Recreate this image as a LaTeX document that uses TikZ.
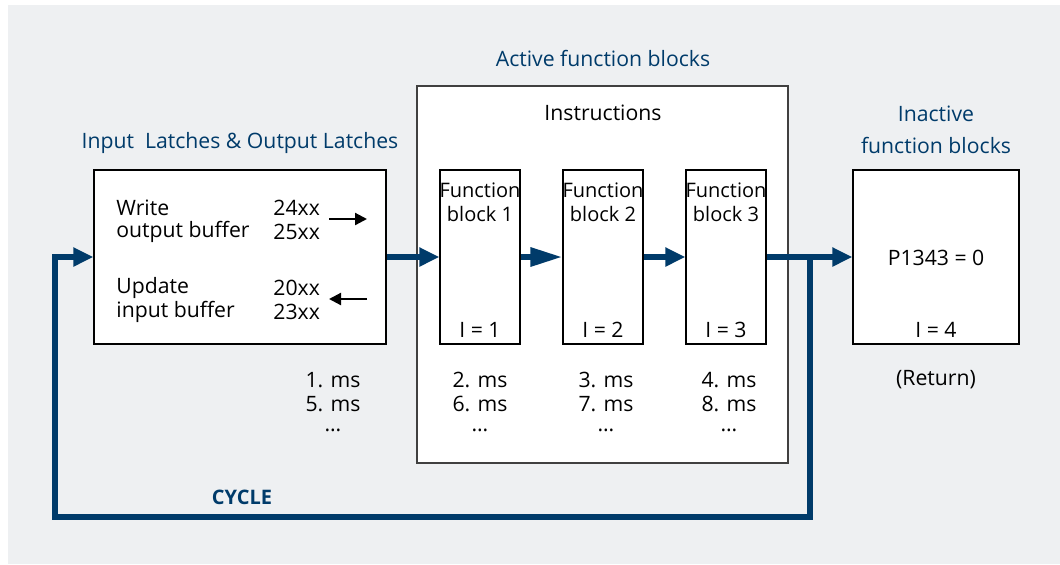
\documentclass[tikz,border=0pt]{standalone}
\usepackage{fontspec}
\setmainfont{Open Sans}
\usetikzlibrary{arrows.meta}
\definecolor{sblue}{HTML}{003B6A}
\definecolor{bggray}{HTML}{EEF0F2}
\tikzset{
  box/.style={draw=black, fill=white, line width=0.6pt, inner sep=0pt},
  fbox/.style={box, minimum width=40pt, minimum height=87pt},
  lbl/.style={font=\fontsize{10.6}{12}\selectfont, inner sep=0pt},
  fblbl/.style={lbl, font=\fontsize{10}{12}\selectfont},
  head/.style={lbl, text=sblue, align=center},
  flow/.style={draw=sblue, line width=3pt, -{Triangle[length=10pt,width=9pt]}},
  thin/.style={draw=black, line width=1.1pt, -{Triangle[length=6pt,width=6pt]}}
}
\begin{document}
\begin{tikzpicture}[
        x=0.5pt,
        y=-0.5pt]

%Hintergrund
\useasboundingbox (0,0) rectangle (1060,564);
\fill[white] (0,0) rectangle (1060,564);
\fill[bggray] (8,5) rectangle (1060,564);
%Ueberschriften
\node[head] (activehd) at (603,58) {Active function blocks};
\node[head] (latchhd) at (240,143) {Input\ \ Latches \& Output Latches};
\node[head, text height=8pt] (inacthd1) at (936,114) {Inactive};
\node[head, text height=8pt] (inacthd2) at (936,146) {function blocks};
%Kaesten
\node[box, draw=black!75, minimum width=185.5pt, minimum height=188.5pt] (active) at (602.5,274.5) {};
\node[box, minimum width=146pt, minimum height=87pt] (latch) at (240,257) {};
\node[fbox] (fb1) at (480,257) {};
\node[fbox] (fb2) at (603,257) {};
\node[fbox] (fb3) at (726,257) {};
\node[box, minimum width=83pt, minimum height=87pt] (inactive) at (936,257) {};
%Texte In Den Kaesten
\node[lbl] (instr) at (603,113) {Instructions};
\node[lbl, anchor=west] (write) at (116,208) {Write};
\node[lbl, anchor=west] (outbuf) at (116,232) {output buffer};
\node[lbl, anchor=west] (upd) at (116,288) {Update};
\node[lbl, anchor=west] (inbuf) at (116,312) {input buffer};
\node[lbl, anchor=west] (w24) at (273,208) {24xx};
\node[lbl, anchor=west] (w25) at (273,232) {25xx};
\node[lbl, anchor=west] (u20) at (273,288) {20xx};
\node[lbl, anchor=west] (u23) at (273,312) {23xx};
\coordinate (wa) at (329,219);
\coordinate (wb) at (367,219);
\coordinate (ua) at (367,299);
\coordinate (ub) at (329,299);
\draw[thin] (wa) -- (wb);
\draw[thin] (ua) -- (ub);

\node[fblbl] (fb1a) at (480,190) {Function};
\node[fblbl] (fb1b) at (480,214) {block 1};
\node[lbl] (fb1i) at (480,330) {I = 1};
\node[fblbl] (fb2a) at (603,190) {Function};
\node[fblbl] (fb2b) at (603,214) {block 2};
\node[lbl] (fb2i) at (603,330) {I = 2};
\node[fblbl] (fb3a) at (726,190) {Function};
\node[fblbl] (fb3b) at (726,214) {block 3};
\node[lbl] (fb3i) at (726,330) {I = 3};
\node[lbl] (param) at (936,258) {P1343 = 0};
\node[lbl] (fb4i) at (936,330) {I = 4};
%Zeiten
\node[lbl] (ms1) at (333,380) {1. ms};
\node[lbl] (ms5) at (333,404) {5. ms};
\node[lbl] (d0) at (333,430) {\dots};
\node[lbl] (ms2) at (480,380) {2. ms};
\node[lbl] (ms6) at (480,404) {6. ms};
\node[lbl] (d1) at (480,430) {\dots};
\node[lbl] (ms3) at (606,380) {3. ms};
\node[lbl] (ms7) at (606,404) {7. ms};
\node[lbl] (d2) at (606,430) {\dots};
\node[lbl] (ms4) at (729,380) {4. ms};
\node[lbl] (ms8) at (729,404) {8. ms};
\node[lbl] (d3) at (729,430) {\dots};
\node[lbl] (ret) at (936,380) {(Return)};
\node[lbl, text=sblue, font=\fontsize{10}{12}\selectfont\bfseries] (cycle) at (242,497) {CYCLE};
%Pfeile
\draw[flow] (latch.east) -- (fb1.west);
\draw[flow, -{Triangle[length=16pt,width=9pt]}] (fb1.east) -- (fb2.west);
\draw[flow] (fb2.east) -- (fb3.west);
\draw[flow] (fb3.east) -- (inactive.west);
%Zyklus
\coordinate (split) at (810,257);
\coordinate (br) at (810,517);
\coordinate (bl) at (55,517);
\coordinate (tl) at (55,257);
\draw[flow, line join=miter] (split) -- (br) -- (bl) -- (tl) -- (latch.west);

\end{tikzpicture}
\end{document}
